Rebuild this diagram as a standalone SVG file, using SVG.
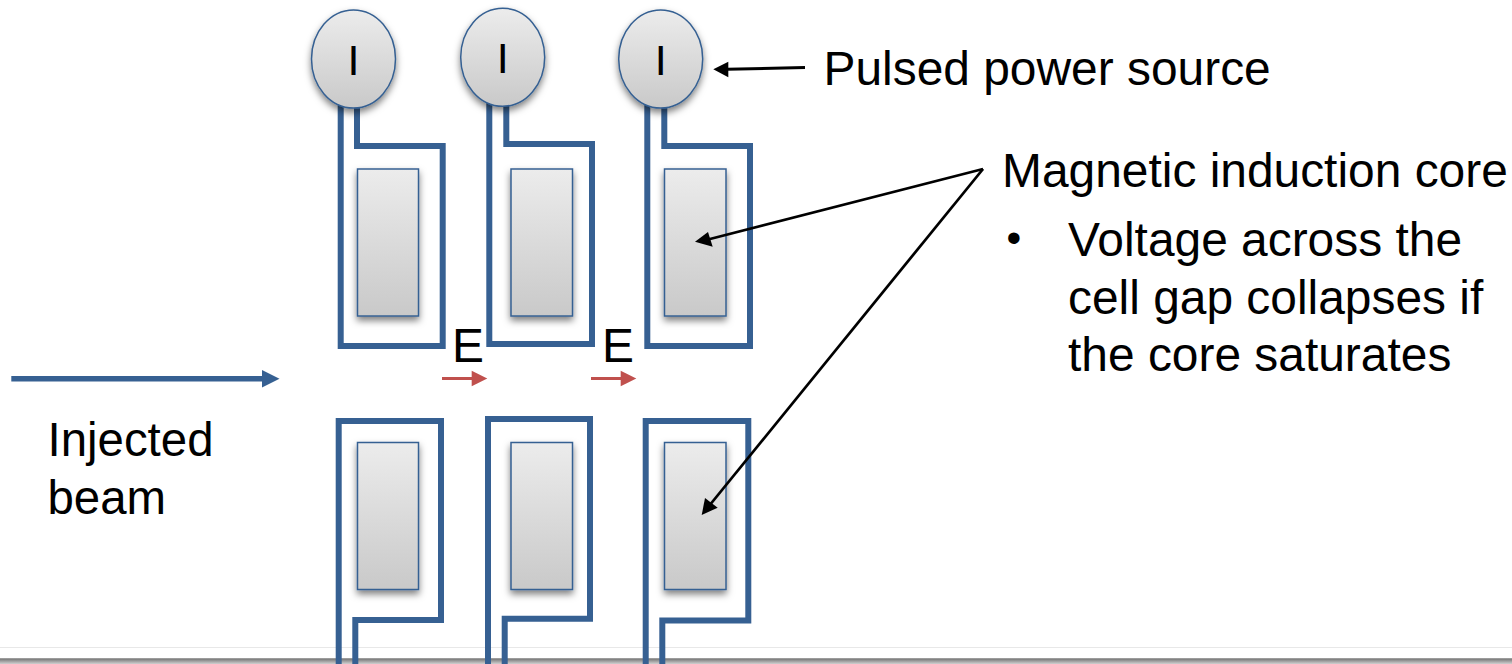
<svg xmlns="http://www.w3.org/2000/svg" width="1512" height="664" viewBox="0 0 1512 664">
<style>
text{font-family:"Liberation Sans",Arial,sans-serif;fill:#000}
.t{font-size:47.9px}
.n{font-size:47.4px}
.i{font-size:43px;text-anchor:middle}
.w{fill:none;stroke:#366092;stroke-width:6;stroke-linejoin:miter}
.c{fill:url(#g);stroke:#366092;stroke-width:1.5;filter:url(#s)}
.a{fill:none;stroke:#000;stroke-width:2.700}
</style>
<defs>
<linearGradient id="g" x1="0" y1="0" x2="0" y2="1"><stop offset="0" stop-color="#ececec"/><stop offset="1" stop-color="#c9c9c9"/></linearGradient>
<linearGradient id="b" x1="0" y1="0" x2="0" y2="1"><stop offset="0" stop-color="#6e6e6e"/><stop offset="1" stop-color="#d0d0d0"/></linearGradient>
<filter id="s" x="-30%" y="-30%" width="160%" height="160%"><feDropShadow dx="0" dy="4" stdDeviation="3.500" flood-color="#000" flood-opacity="0.5"/></filter>
</defs>
<g id="footer"><rect x="0" y="647" width="1512" height="1" fill="#e8e8e8"/><rect x="0" y="658.300" width="1512" height="5.700" fill="url(#b)"/></g>
<g id="core-t1"><rect class="c" x="357.500" y="169" width="61" height="147"/></g>
<g id="core-t2"><rect class="c" x="511" y="169" width="61.500" height="147"/></g>
<g id="core-t3"><rect class="c" x="664.500" y="169" width="61.500" height="147"/></g>
<g id="core-b1"><rect class="c" x="357.500" y="442.500" width="61" height="147"/></g>
<g id="core-b2"><rect class="c" x="511" y="442.500" width="61.500" height="147"/></g>
<g id="core-b3"><rect class="c" x="664.500" y="442.500" width="61.500" height="147"/></g>
<g id="connectors">
<path class="w" d="M340.700 100V346H442.700V146H357V100"/>
<path class="w" d="M489.300 100V344H592V144H506.300V100"/>
<path class="w" d="M647.300 100V346H750V146H664.300V100"/>
<path class="w" d="M338.700 664V421H441V620H355.300V664"/>
<path class="w" d="M488 664V419H590V618.700H504.700V664"/>
<path class="w" d="M645.700 664V421H748.300V620.500H662.300V664"/>
<path d="M11.300 378.700H263" fill="none" stroke="#366092" stroke-width="5.500"/><path d="M262 370L279.500 378.700L262 387.400Z" fill="#366092"/>
<path d="M442 378.500H473" fill="none" stroke="#c0504d" stroke-width="3"/><path d="M471.700 370.700L487.300 378.500L471.700 386.300Z" fill="#c0504d"/>
<path d="M591 378.500H622" fill="none" stroke="#c0504d" stroke-width="3"/><path d="M620.700 370.700L636.300 378.500L620.700 386.300Z" fill="#c0504d"/>
<path d="M805 67.500L727 69.300" class="a" style="stroke-width:3"/><path d="M713.300 69.300L728.300 61.700V77.300Z"/>
<path d="M983 169L708 239.500" class="a"/><path d="M695 241.700L708 232L712.700 246.700Z"/>
<path d="M983 169L709 506" class="a"/><path d="M701.700 515L705 498L717.700 507.700Z"/>
</g>
<g id="source-1"><ellipse class="c" cx="353.500" cy="59" rx="42" ry="49"/><text class="i" x="353.500" y="74.700">I</text></g>
<g id="source-2"><ellipse class="c" cx="502.700" cy="57.300" rx="42" ry="49"/><text class="i" x="502.700" y="72.700">I</text></g>
<g id="source-3"><ellipse class="c" cx="660.700" cy="59" rx="42" ry="49"/><text class="i" x="660.700" y="75">I</text></g>
<g id="labels">
<text class="t" x="452" y="362">E</text>
<text class="t" x="602" y="361.500">E</text>
<text class="t" x="823.500" y="85">Pulsed power source</text>
<text class="t" x="1002" y="187">Magnetic induction core</text>
<text x="1006.500" y="251.500" style="font-size:42px">•</text>
<text class="t" x="1068" y="256">Voltage across the</text>
<text class="t" x="1068" y="314">cell gap collapses if</text>
<text class="t" x="1068" y="371">the core saturates</text>
<text class="n" x="47.500" y="456">Injected</text>
<text class="n" x="47.500" y="514">beam</text>
</g>
</svg>
